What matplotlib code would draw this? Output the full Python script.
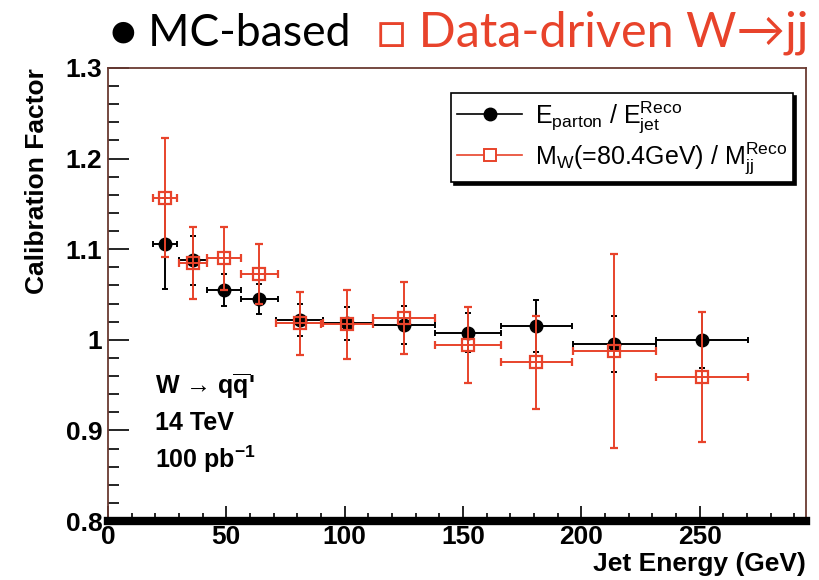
import matplotlib
matplotlib.use("Agg")
import matplotlib.pyplot as plt
from matplotlib.lines import Line2D
from matplotlib.ticker import MultipleLocator

plt.rcParams["mathtext.fontset"] = "custom"
plt.rcParams["mathtext.rm"] = "Liberation Sans"
plt.rcParams["mathtext.it"] = "Liberation Sans"
plt.rcParams["mathtext.bf"] = "Liberation Sans:bold"

# jet-energy bins (GeV): centre and half width
energy = [24, 36, 49, 64, 81, 101, 125, 152, 181, 214, 251]
energy_err = [5, 6, 7, 8, 10, 11, 13, 14, 15, 17.5, 19.5]

# MC-based calibration, E_parton / E_jet
mc_val = [1.106, 1.088, 1.055, 1.045, 1.022, 1.018, 1.016, 1.008, 1.015, 0.995, 1.000]
mc_err = [0.050, 0.027, 0.018, 0.017, 0.018, 0.018, 0.021, 0.022, 0.029, 0.031, 0.031]

# data-driven W->jj calibration, M_W / M_jj
dd_val = [1.157, 1.085, 1.090, 1.073, 1.018, 1.017, 1.024, 0.994, 0.975, 0.988, 0.959]
dd_err = [0.066, 0.040, 0.035, 0.033, 0.035, 0.038, 0.040, 0.042, 0.051, 0.107, 0.072]

red = "#e8432b"

fig = plt.figure(figsize=(8.2, 5.8), dpi=100)
ax = fig.add_axes([0.1317, 0.1017, 0.8513, 0.7811])

ax.errorbar(energy, mc_val, yerr=mc_err, xerr=energy_err, fmt="o", color="black",
            ms=9, elinewidth=1.4, capsize=2.5, capthick=1.4, zorder=3)
ax.errorbar(energy, dd_val, yerr=dd_err, xerr=energy_err, fmt="s", color=red,
            mfc="none", mec=red, mew=1.6, ms=8.5, elinewidth=1.4, capsize=3,
            capthick=1.4, zorder=4)

ax.set_xlim(0, 295)
ax.set_ylim(0.8, 1.3)
ax.xaxis.set_major_locator(MultipleLocator(50))
ax.xaxis.set_minor_locator(MultipleLocator(10))
ax.yaxis.set_major_locator(MultipleLocator(0.1))
ax.yaxis.set_minor_locator(MultipleLocator(0.02))
ax.set_yticks([0.8, 0.9, 1.0, 1.1, 1.2, 1.3], ["0.8", "0.9", "1", "1.1", "1.2", "1.3"])

for s in ["top", "left", "right"]:
    ax.spines[s].set_color("#6a3a32")
    ax.spines[s].set_linewidth(1.3)
ax.spines["bottom"].set_linewidth(6)
ax.spines["bottom"].set_color("black")

ax.tick_params(which="both", direction="in", top=False, right=False, color="black", width=1.2)
ax.tick_params(which="major", axis="y", length=15, pad=4)
ax.tick_params(which="minor", axis="y", length=8)
ax.tick_params(which="major", axis="x", length=11, pad=3)
ax.tick_params(which="minor", axis="x", length=6)
for lab in ax.get_xticklabels() + ax.get_yticklabels():
    lab.set_family("Liberation Sans")
    lab.set_fontweight("bold")
    lab.set_fontsize(19)

ax.set_xlabel("Jet Energy (GeV)", loc="right", fontsize=19, fontweight="bold",
              family="Liberation Sans", labelpad=2)
ax.set_ylabel("Calibration Factor", loc="top", fontsize=19, fontweight="bold",
              family="Liberation Sans", labelpad=12)

handles = [
    Line2D([], [], color="black", marker="o", ms=9, lw=1.2),
    Line2D([], [], color=red, marker="s", ms=8, mfc="white", mec=red, mew=1.4, lw=1.2),
]
labels = [r"E$_{parton}$ / E$_{jet}^{Reco}$",
          r"M$_{W}$(=80.4GeV) / M$_{jj}^{Reco}$"]
leg = ax.legend(handles, labels, loc="upper right", bbox_to_anchor=(793 / 820, 1 - 93 / 580),
                bbox_transform=fig.transFigure, prop={"family": "Liberation Sans", "size": 18},
                frameon=True, fancybox=False, edgecolor="black", framealpha=1,
                handlelength=2.6, handletextpad=0.5, borderpad=0.25, labelspacing=0.2,
                borderaxespad=0,
                shadow={"facecolor": "black", "edgecolor": "black", "alpha": 1})
leg.get_frame().set_linewidth(1.2)

ax.text(20, 0.941, "W \u2192 q$\\mathbf{\\overline{q}}$'", fontsize=18,
        fontweight="bold", family="Liberation Sans", ha="left", va="baseline")
ax.text(20, 0.900, "14 TeV", fontsize=18, fontweight="bold", family="Liberation Sans",
        ha="left", va="baseline")
ax.text(20, 0.858, r"100 pb$\mathbf{^{-1}}$", fontsize=18, fontweight="bold",
        family="Liberation Sans", ha="left", va="baseline")

fig.text(110 / 820, 1 - 33 / 580, "\u25cf MC-based", fontsize=32, color="black",
         family=["Lato", "DejaVu Sans"], ha="left", va="center")
fig.text(808 / 820, 1 - 33 / 580, "\u25a1 Data-driven W\u2192jj", fontsize=35, color=red,
         family=["Lato", "DejaVu Sans"], ha="right", va="center")

fig.savefig("out.png", dpi=100)
